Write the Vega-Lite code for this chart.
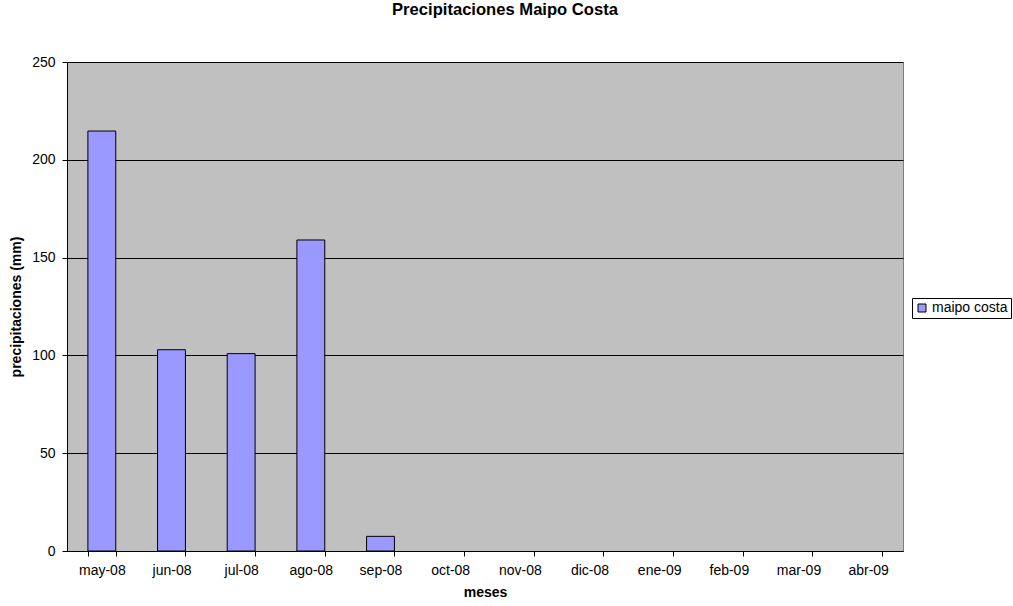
{
  "$schema": "https://vega.github.io/schema/vega-lite/v6.json",
  "autosize": {"type": "none"},
  "width": 836,
  "height": 489,
  "padding": {"left": 67, "top": 62, "right": 110, "bottom": 55},
  "background": "white",
  "title": {
    "text": "Precipitaciones Maipo Costa",
    "font": "Liberation Sans",
    "fontSize": 16.6,
    "fontWeight": "bold",
    "color": "black",
    "anchor": "middle",
    "dx": 20,
    "offset": 36
  },
  "data": {
    "values": [
      {"mes": "may-08", "precip": 214.7, "serie": "maipo costa"},
      {"mes": "jun-08", "precip": 102.9, "serie": "maipo costa"},
      {"mes": "jul-08", "precip": 100.9, "serie": "maipo costa"},
      {"mes": "ago-08", "precip": 159.0, "serie": "maipo costa"},
      {"mes": "sep-08", "precip": 7.5, "serie": "maipo costa"},
      {"mes": "oct-08", "precip": null, "serie": "maipo costa"},
      {"mes": "nov-08", "precip": null, "serie": "maipo costa"},
      {"mes": "dic-08", "precip": null, "serie": "maipo costa"},
      {"mes": "ene-09", "precip": null, "serie": "maipo costa"},
      {"mes": "feb-09", "precip": null, "serie": "maipo costa"},
      {"mes": "mar-09", "precip": null, "serie": "maipo costa"},
      {"mes": "abr-09", "precip": null, "serie": "maipo costa"}
    ]
  },
  "mark": {"type": "bar", "stroke": "black", "strokeWidth": 1},
  "encoding": {
    "x": {
      "field": "mes",
      "type": "nominal",
      "sort": null,
      "scale": {
        "domain": ["may-08", "jun-08", "jul-08", "ago-08", "sep-08", "oct-08", "nov-08", "dic-08", "ene-09", "feb-09", "mar-09", "abr-09"],
        "paddingInner": 0.6,
        "paddingOuter": 0.3
      },
      "axis": {
        "title": "meses",
        "titleFont": "Liberation Sans",
        "titleFontSize": 14,
        "titleFontWeight": "bold",
        "titleColor": "black",
        "titlePadding": 8,
        "labelAngle": 0,
        "labelFont": "Liberation Sans",
        "labelFontSize": 14,
        "labelColor": "black",
        "labelPadding": 7,
        "tickBand": "extent",
        "tickSize": 5,
        "tickColor": "black",
        "domainColor": "black",
        "grid": false
      }
    },
    "y": {
      "field": "precip",
      "type": "quantitative",
      "scale": {"domain": [0, 250]},
      "axis": {
        "title": "precipitaciones (mm)",
        "titleFont": "Liberation Sans",
        "titleFontSize": 14,
        "titleFontWeight": "bold",
        "titleColor": "black",
        "titlePadding": 8,
        "values": [0, 50, 100, 150, 200, 250],
        "labelFont": "Liberation Sans",
        "labelFontSize": 14,
        "labelColor": "black",
        "labelPadding": 7,
        "tickSize": 5,
        "tickColor": "black",
        "domainColor": "black",
        "grid": true,
        "gridColor": "black",
        "gridOpacity": 1,
        "gridWidth": 1
      }
    },
    "color": {
      "field": "serie",
      "type": "nominal",
      "scale": {"range": ["#9999FF"]},
      "legend": {
        "title": null,
        "orient": "none",
        "legendX": 845,
        "legendY": 236,
        "symbolType": "square",
        "symbolSize": 64,
        "symbolStrokeColor": "black",
        "symbolStrokeWidth": 1,
        "symbolFillColor": "#9999FF",
        "labelFont": "Liberation Sans",
        "labelFontSize": 14,
        "labelColor": "black",
        "labelOffset": 3,
        "padding": 3,
        "strokeColor": "black",
        "fillColor": "white"
      }
    }
  },
  "config": {
    "view": {"fill": "#C0C0C0", "stroke": "#808080", "strokeWidth": 1}
  }
}
